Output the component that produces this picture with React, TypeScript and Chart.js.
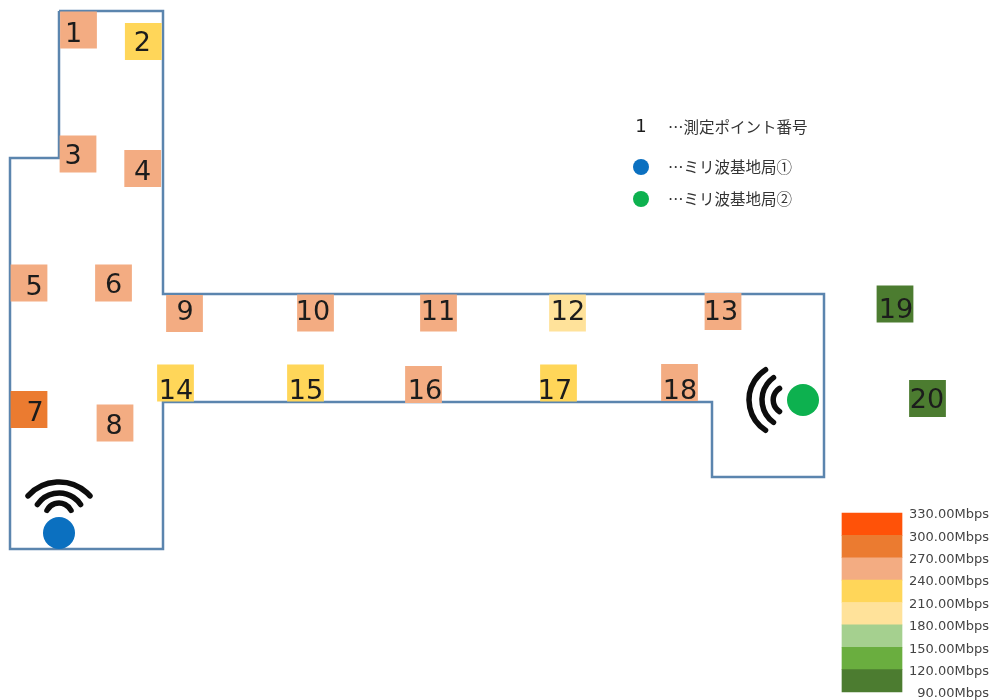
import React, { useEffect, useRef } from "react";
import { Chart, registerables } from "chart.js";

Chart.register(...registerables);

const pointNames = ["1","2","3","4","5","6","7","8","9","10","11","12","13","14","15","16","17","18","19","20"];
const pointX = [78.5,143.3,78,142.7,29,113.5,29,115,184.5,315.5,438.5,567.5,723,175.5,305.5,423.5,558.5,679.5,895,927.5];
const pointY = [30,41.5,154,168.5,283,283,409.5,423,313.5,313,313,313,311.5,383,383,384.5,383,382.5,304,398.5];
const throughput = [255,225,258,256,255,252,285,250,254,256,253,200,250,225,222,252,228,255,105,110];
const labelDx = [-5,-1,-5,0,5,0,6,-1,0.5,-2.5,-0.5,0.5,-2,0.5,0.5,1.5,-3.5,0.5,1,-0.5];
const labelDy = [5,2,3,4.5,5,3,4.5,4,-0.5,0,0,0,1.5,8.5,8.5,7,8.5,9,7,2.5];

const floorX = [59,163,163,824,824,712,712,163,163,10,10,59,59];
const floorY = [11,11,294,294,477,477,402,402,549,549,158,158,11];

const stationX = [59,803];
const stationY = [533,400];
const legendDotX = [641,641];
const legendDotY = [167,199];
const legendTexts = ["…測定ポイント番号","…ミリ波基地局①","…ミリ波基地局②"];
const legendTextY = [127,167,199];

const bandLow = [300,270,240,210,180,150,120,90];
const bandHigh = [330,300,270,240,210,180,150,120];
const bandColors = ["#FF5208","#EB7B30","#F3AC82","#FFD659","#FFE29A","#A5D08F","#6AAE3F","#4C7C30"];
const colorFor = (v:number)=>bandColors[bandLow.findIndex(l=>v>=l)];
const tickValues = [330,300,270,240,210,180,150,120,90];

// wave arcs: centre x, centre y, radius
const wifiBlue = [[59,523.6,41.6],[59,519,26],[59,516.5,13.5]];
const wifiGreen = [[785,400,36],[789.5,400,27.5],[787,400,13.8]];

const overlay = {
  id: "overlay",
  afterDatasetsDraw(chart:any) {
    const { ctx, scales } = chart;
    const { x, y, y2 } = scales;
    ctx.save();
    ctx.strokeStyle = "#0d0d0d";
    ctx.lineWidth = 5.5;
    ctx.lineCap = "round";
    wifiBlue.forEach(([cx,cy,r])=>{
      const half = r>30?0.84:r>20?0.98:1.1;
      ctx.beginPath();
      ctx.arc(x.getPixelForValue(cx),y.getPixelForValue(cy),r,-Math.PI/2-half,-Math.PI/2+half);
      ctx.stroke();
    });
    wifiGreen.forEach(([cx,cy,r])=>{
      const half = r>30?1.0:r>20?0.95:1.0;
      ctx.beginPath();
      ctx.arc(x.getPixelForValue(cx),y.getPixelForValue(cy),r,Math.PI-half,Math.PI+half);
      ctx.stroke();
    });
    ctx.textBaseline = "middle";
    ctx.fillStyle = "#1c1c1c";
    ctx.textAlign = "center";
    ctx.font = '27px "DejaVu Sans"';
    pointNames.forEach((n,i)=>{
      ctx.fillText(n,x.getPixelForValue(pointX[i]+labelDx[i]),y.getPixelForValue(pointY[i]+labelDy[i]));
    });
    ctx.font = '18px "DejaVu Sans"';
    ctx.fillText("1",x.getPixelForValue(641),y.getPixelForValue(127.5));
    ctx.textAlign = "left";
    ctx.fillStyle = "#333333";
    ctx.font = '15.5px "Noto Sans CJK JP"';
    legendTexts.forEach((t,i)=>{
      ctx.fillText(t,x.getPixelForValue(668),y.getPixelForValue(legendTextY[i]));
    });
    ctx.textAlign = "right";
    ctx.fillStyle = "#444444";
    ctx.font = '13px "DejaVu Sans"';
    tickValues.forEach(v=>{
      ctx.fillText(v.toFixed(2)+"Mbps",x.getPixelForValue(989),y2.getPixelForValue(v)+2);
    });
    ctx.restore();
  },
};

export default function App() {
  const ref = useRef<HTMLCanvasElement>(null);
  useEffect(()=>{
    const chart = new Chart(ref.current as HTMLCanvasElement,{
      type:"scatter",
      plugins:[overlay],
      data:{
        datasets:[
          {
            type:"scatter",
            label:"floor",
            data:floorX.map((v,i)=>({x:v,y:floorY[i]})),
            showLine:true,
            borderColor:"#5B85AE",
            borderWidth:2.5,
            pointRadius:0,
            order:5,
          },
          {
            type:"scatter",
            label:"points",
            data:pointX.map((v,i)=>({x:v,y:pointY[i]})),
            pointStyle:"rect",
            pointRadius:26,
            pointBorderWidth:0,
            pointBackgroundColor:throughput.map(colorFor),
            order:2,
          },
          {
            type:"scatter",
            label:"stations",
            data:stationX.map((v,i)=>({x:v,y:stationY[i]})),
            pointStyle:"circle",
            pointRadius:16,
            pointBorderWidth:0,
            pointBackgroundColor:["#0B70C0","#0DB14F"],
            order:1,
          },
          {
            type:"scatter",
            label:"legend",
            data:legendDotX.map((v,i)=>({x:v,y:legendDotY[i]})),
            pointStyle:"circle",
            pointRadius:8,
            pointBorderWidth:0,
            pointBackgroundColor:["#0B70C0","#0DB14F"],
            order:1,
          },
          {
            type:"bar",
            label:"scale",
            yAxisID:"y2",
            data:bandLow.map((v,i)=>({x:872,y:[v,bandHigh[i]]})) as any,
            backgroundColor:bandColors,
            barThickness:60,
            borderWidth:0,
            order:3,
          },
        ] as any,
      },
      options:{
        responsive:false,
        animation:false,
        layout:{padding:0,autoPadding:false},
        plugins:{legend:{display:false},tooltip:{enabled:false},title:{display:false}},
        scales:{
          x:{type:"linear",display:false,min:0,max:991,offset:false},
          y:{type:"linear",display:false,min:0,max:700,reverse:true},
          y2:{type:"linear",display:false,min:79.27,max:1017.8},
        },
      } as any,
    });
    return ()=>chart.destroy();
  },[]);
  return (
    <div style={{position:"absolute",left:0,top:0,width:991,height:700,background:"#fff"}}>
      <canvas ref={ref} width={991} height={700} style={{display:"block"}}/>
    </div>
  );
}
